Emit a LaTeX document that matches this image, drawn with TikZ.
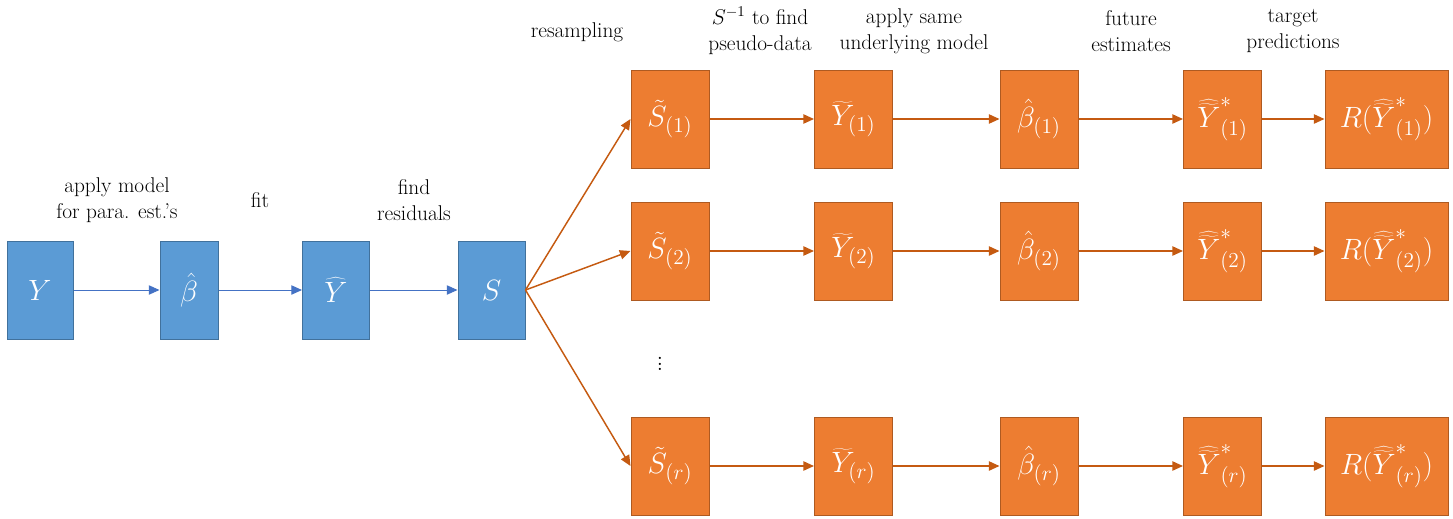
\documentclass[tikz,border=0pt]{standalone}
\usepackage{fix-cm}
\usetikzlibrary{arrows.meta}
\DeclareMathSizes{22}{22}{16}{12}

\definecolor{boxblue}{RGB}{91,155,213}
\definecolor{lineblue}{RGB}{65,113,156}
\definecolor{arrowblue}{RGB}{68,114,196}
\definecolor{boxorange}{RGB}{237,125,49}
\definecolor{lineorange}{RGB}{174,90,33}
\definecolor{arroworange}{RGB}{197,90,17}

\tikzset{every picture/.style={line width=0.75pt}}
\tikzset{
  bluebox/.style={draw=lineblue, fill=boxblue, text=white, minimum height=73.5pt, inner sep=0pt, font=\fontsize{22}{26}\selectfont},
  orangebox/.style={draw=lineorange, fill=boxorange, text=white, minimum width=58.5pt, minimum height=73.5pt, inner sep=0pt, font=\fontsize{22}{26}\selectfont},
  bluearrow/.style={draw=arrowblue, -{Triangle[length=8pt,width=7pt]}},
  orangearrow/.style={draw=arroworange, line width=1.1pt, -{Triangle[length=8pt,width=7pt]}},
  steplabel/.style={align=center, inner sep=0.75pt, font=\fontsize{16}{19.5}\selectfont}
}

\begin{document}
\begin{tikzpicture}[x=0.75pt,y=0.75pt,yscale=-1,xscale=1]
\useasboundingbox (0,0) rectangle (1453,518);

% Blue boxes
\node [bluebox, minimum width=49.5pt] (y) at (40,290) {$Y$};
\node [bluebox, minimum width=43.5pt] (beta) at (189,290) {$\hat{\beta}$};
\node [bluebox, minimum width=50.25pt] (yhat) at (336,290) {$\widehat{Y}$};
\node [bluebox, minimum width=50.25pt] (s) at (491.5,290) {$S$};

% Blue arrows
\draw [bluearrow] (y) -- (beta);
\draw [bluearrow] (beta) -- (yhat);
\draw [bluearrow] (yhat) -- (s);

% Row 1
\node [orangebox] (s1) at (670,119) {$\tilde{S}_{(1)}$};
\node [orangebox] (yt1) at (853.5,119) {$\widetilde{Y}_{(1)}$};
\node [orangebox] (b1) at (1039,119) {$\hat{\beta}_{(1)}$};
\node [orangebox] (yf1) at (1222.5,119) {$\widehat{\widetilde{Y}}^{*}_{(1)}$};
\node [orangebox, minimum width=92.25pt] (r1) at (1386.5,119) {$R(\widehat{\widetilde{Y}}^{*}_{(1)})$};
% Row 2
\node [orangebox] (s2) at (670,251) {$\tilde{S}_{(2)}$};
\node [orangebox] (yt2) at (853.5,251) {$\widetilde{Y}_{(2)}$};
\node [orangebox] (b2) at (1039,251) {$\hat{\beta}_{(2)}$};
\node [orangebox] (yf2) at (1222.5,251) {$\widehat{\widetilde{Y}}^{*}_{(2)}$};
\node [orangebox, minimum width=92.25pt] (r2) at (1386.5,251) {$R(\widehat{\widetilde{Y}}^{*}_{(2)})$};
% Row r
\node [orangebox] (sr) at (670,466) {$\tilde{S}_{(r)}$};
\node [orangebox] (ytr) at (853.5,466) {$\widetilde{Y}_{(r)}$};
\node [orangebox] (br) at (1039,466) {$\hat{\beta}_{(r)}$};
\node [orangebox] (yfr) at (1222.5,466) {$\widehat{\widetilde{Y}}^{*}_{(r)}$};
\node [orangebox, minimum width=92.25pt] (rr) at (1386.5,466) {$R(\widehat{\widetilde{Y}}^{*}_{(r)})$};

% Vertical dots
\node [font=\fontsize{20}{24}\selectfont, inner sep=0pt] (dots) at (660,360) {$\vdots$};

% Resampling fan
\draw [orangearrow] (s.east) -- (s1.west);
\draw [orangearrow] (s.east) -- (s2.west);
\draw [orangearrow] (s.east) -- (sr.west);

% Orange arrows
\draw [orangearrow] (s1) -- (yt1);
\draw [orangearrow] (yt1) -- (b1);
\draw [orangearrow] (b1) -- (yf1);
\draw [orangearrow] (yf1) -- (r1);
\draw [orangearrow] (s2) -- (yt2);
\draw [orangearrow] (yt2) -- (b2);
\draw [orangearrow] (b2) -- (yf2);
\draw [orangearrow] (yf2) -- (r2);
\draw [orangearrow] (sr) -- (ytr);
\draw [orangearrow] (ytr) -- (br);
\draw [orangearrow] (br) -- (yfr);
\draw [orangearrow] (yfr) -- (rr);

% Text Node
\node [steplabel] (lblmodel) at (117,200) {apply model\\for para. est.'s};
% Text Node
\node [steplabel] (lblfit) at (260,200) {fit};
% Text Node
\node [steplabel] (lblresid) at (414,200) {find\\residuals};
% Text Node
\node [steplabel] (lblresamp) at (577,32) {resampling};
% Text Node
\node [steplabel] (lblpseudo) at (760,31) {$S^{-1}$ to find\\pseudo-data};
% Text Node
\node [steplabel] (lblsame) at (914,31) {apply same\\underlying model};
% Text Node
\node [steplabel] (lblfuture) at (1131,31) {future\\estimates};
% Text Node
\node [steplabel] (lbltarget) at (1293,31) {target\\predictions};

\end{tikzpicture}
\end{document}
